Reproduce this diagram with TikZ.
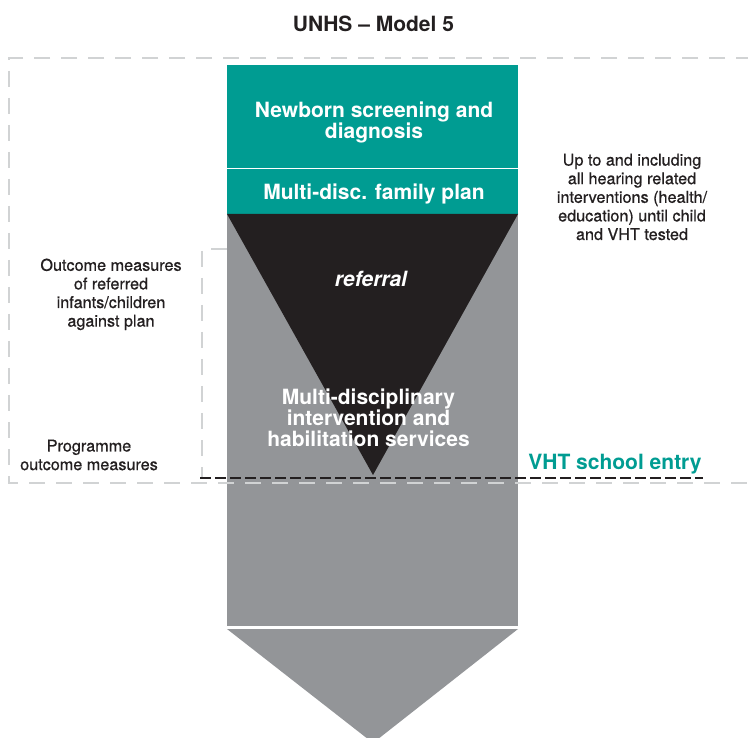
\documentclass[tikz,border=0pt]{standalone}
\usepackage{fontspec}
\setmainfont{TeX Gyre Heros}
\newfontfamily\medfont[FakeBold=0.7]{TeX Gyre Heros}
\usepackage{tikz}
\usetikzlibrary{calc}

\definecolor{unteal}{RGB}{0,156,146}
\definecolor{ungrey}{RGB}{147,149,152}
\definecolor{unblack}{RGB}{35,31,32}
\definecolor{undash}{RGB}{209,211,212}

\begin{document}
\begin{tikzpicture}[x=1pt, y=-1pt,
    big/.style={font=\bfseries\fontsize{21}{21}\selectfont, text=white, align=center, inner sep=0pt},
    small/.style={font=\medfont\fontsize{16.2}{18.6}\selectfont, text=unblack, align=center, inner sep=0pt},
    outer/.style={undash, line width=2pt, dash pattern=on 16pt off 11pt},
    entry/.style={unblack, line width=1.6pt, dash pattern=on 10.5pt off 4.5pt}]
    \useasboundingbox (0,0) rectangle (748,738);

    \coordinate (L) at (200,478);
    \coordinate (R) at (703,478);

    \draw[outer] (227,249) -| (202,478);

    \fill[unteal] (227,65) rectangle (518,214);
    \draw[white, line width=1.2pt] (227,168.6) -- (518,168.6);
    \fill[ungrey] (227,214) rectangle (518,626);
    \fill[unblack] (227,214) -- (518,214) -- (373,475) -- cycle;
    \fill[ungrey] (227,629) -- (518,629) -- (373,743) -- cycle;

    \draw[outer] (752,58) -- (9,58) -- (9,483) -- (752,483);
    \draw[entry] (L) -- (R);

    \node[big, text=unblack, anchor=base] (T) at (373.5,31.7) {UNHS – Model 5};
    \node[big] (NS) at (374,122) {Newborn screening and\\diagnosis};
    \node[big, anchor=base] (FP) at (374,200) {Multi-disc. family plan};
    \node[big, font=\bfseries\itshape\fontsize{21}{21}\selectfont, anchor=base] (REF) at (371,287) {referral};
    \node[big] (MD) at (368.5,418.2) {Multi-disciplinary\\intervention and\\habilitation services};
    \node[big, text=unteal, anchor=base] (VHT) at (615,469.3) {VHT school entry};

    \node[small] (OM) at (111,294.4) {Outcome measures\\of referred\\infants/children\\against plan};
    \node[small] (PO) at (89,455) {Programme\\outcome measures};
    \node[small] (UP) at (632,197) {Up to and including\\all hearing related\\interventions (health/\\education) until child\\and VHT tested};
\end{tikzpicture}
\end{document}
